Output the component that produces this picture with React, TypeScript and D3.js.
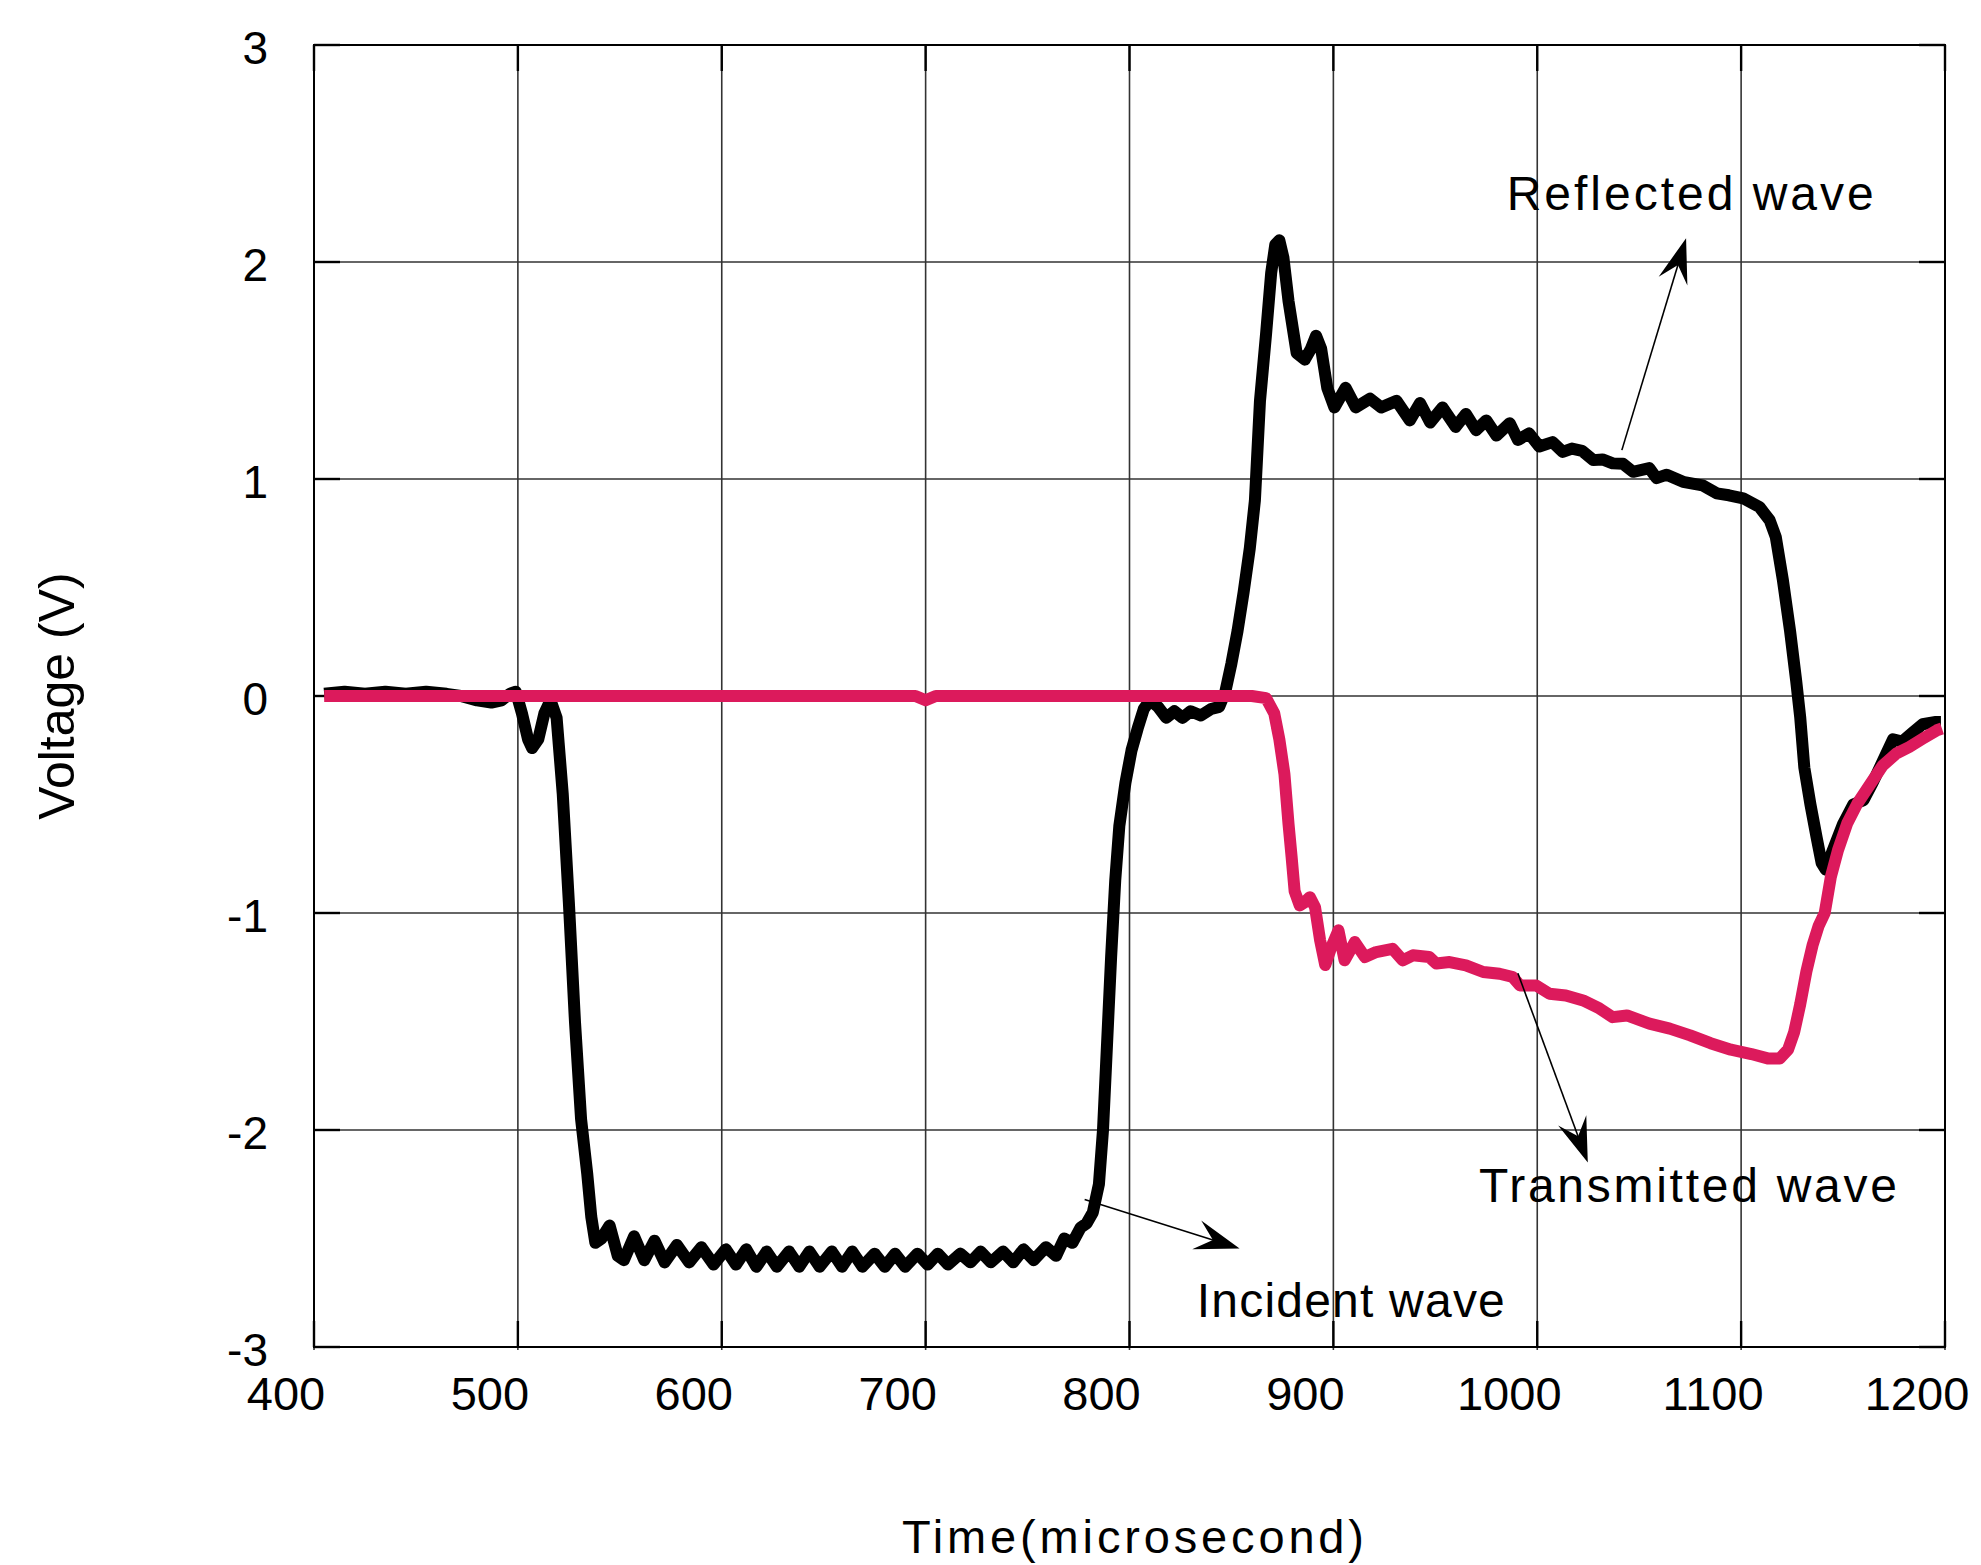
import * as d3 from "d3";

// black trace: incident wave followed by reflected wave (time in microseconds, volts)
const blackTime = [405,415,425,435,445,455,465,472,480,487,492,496,499,502,505,507,510,513,516,519,522,525,528,531,534,536,538,541,545,549,552,557,562,567,572,578,584,590,596,602,607,612,617,622,627,633,638,643,648,654,659,664,669,675,680,685,690,696,701,706,711,717,722,727,732,738,743,748,753,759,764,768,772,776,779,782,785,787,789,791,793,795,798,801,804,807,810,814,818,822,826,830,835,840,844,847,850,853,856,859,861.5,864,867,869.5,871.5,873.5,875.5,878,882,886,889,891.5,894,897,900.5,906,911,918,923.5,931,937.5,942.5,947.5,953.5,960,965,970,975,980,986.5,990.5,996,1001,1007.5,1012.5,1017,1022,1027.5,1032,1037,1042,1047,1055,1058.5,1063.5,1071.5,1081,1088,1094,1101,1109,1114,1117,1120.5,1124,1127,1129,1131,1134,1137,1139.5,1141.5,1145,1150,1155,1160,1164.5,1169.5,1174.5,1179,1184,1189,1195.5,1198];
const blackVolt = [0.01,0.02,0.01,0.02,0.01,0.02,0.01,0.0,-0.02,-0.03,-0.02,0.01,0.02,-0.08,-0.2,-0.24,-0.2,-0.08,-0.02,-0.1,-0.45,-0.95,-1.5,-1.95,-2.2,-2.4,-2.52,-2.5,-2.44,-2.58,-2.6,-2.49,-2.6,-2.51,-2.61,-2.53,-2.61,-2.54,-2.62,-2.55,-2.62,-2.55,-2.63,-2.56,-2.63,-2.56,-2.63,-2.56,-2.63,-2.56,-2.63,-2.56,-2.63,-2.57,-2.63,-2.57,-2.63,-2.57,-2.62,-2.57,-2.62,-2.57,-2.61,-2.56,-2.61,-2.56,-2.61,-2.55,-2.6,-2.54,-2.58,-2.5,-2.52,-2.45,-2.43,-2.38,-2.25,-2.0,-1.6,-1.2,-0.85,-0.6,-0.4,-0.25,-0.15,-0.06,-0.02,-0.05,-0.1,-0.07,-0.1,-0.07,-0.09,-0.06,-0.05,0.02,0.15,0.3,0.48,0.68,0.9,1.36,1.67,1.95,2.08,2.1,2.02,1.82,1.58,1.55,1.6,1.66,1.6,1.42,1.33,1.42,1.33,1.37,1.33,1.36,1.27,1.35,1.26,1.33,1.24,1.3,1.225,1.27,1.2,1.257,1.18,1.21,1.15,1.17,1.125,1.14,1.13,1.087,1.09,1.072,1.07,1.033,1.05,1.004,1.02,0.987,0.971,0.934,0.925,0.911,0.871,0.81,0.733,0.533,0.3,0.07,-0.1,-0.33,-0.5,-0.65,-0.77,-0.8,-0.71,-0.59,-0.5,-0.48,-0.4,-0.3,-0.2,-0.21,-0.17,-0.13,-0.12,-0.12];

// pink trace: transmitted wave
const pinkTime = [405,500,600,695,700,705,800,860,867,871,873.5,876,878,879.5,881,883.5,886,888.5,891,893.5,896,899,902.5,905.5,910.5,915.5,921,929,934,939,947,950.5,957,965,973.5,981.5,988,991.5,999.5,1006,1014,1022.5,1030.5,1037,1044,1055,1065,1075,1085,1095,1105,1113,1119,1123,1126,1129,1132,1135,1138,1141,1144,1147.5,1152,1157,1163.5,1169.5,1176,1182.5,1189,1196,1198.5];
const pinkVolt = [0,0,0,0,-0.02,0,0,0,-0.01,-0.08,-0.2,-0.36,-0.59,-0.74,-0.9,-0.965,-0.95,-0.927,-0.973,-1.126,-1.24,-1.157,-1.08,-1.218,-1.134,-1.203,-1.18,-1.165,-1.218,-1.195,-1.203,-1.233,-1.226,-1.241,-1.272,-1.28,-1.295,-1.334,-1.334,-1.372,-1.38,-1.403,-1.44,-1.48,-1.472,-1.51,-1.533,-1.564,-1.6,-1.63,-1.65,-1.67,-1.67,-1.63,-1.55,-1.42,-1.27,-1.15,-1.06,-1.0,-0.834,-0.711,-0.588,-0.496,-0.404,-0.32,-0.266,-0.235,-0.197,-0.158,-0.15];

const xTicks = [400, 500, 600, 700, 800, 900, 1000, 1100, 1200];
const yTicks = [-3, -2, -1, 0, 1, 2, 3];

// annotation labels: text, left x (time), baseline (volts), width in px
const labelText = ["Reflected wave", "Transmitted wave", "Incident wave"];
const labelX = [985, 971.4, 833];
const labelY = [2.24, -2.33, -2.86];
const labelWidth = [367, 418, 308];
// arrows: from (time, volts) to tip (time, volts)
const arrowFrom = [[1041.5, 1.133], [990.5, -1.278], [778, -2.32]];
const arrowTo = [[1073, 2.11], [1024.8, -2.15], [854, -2.546]];

const W = 1981;
const H = 1565;
const margin = { top: 45, right: 36, bottom: 218, left: 314 };
const font = "'Liberation Sans', Arial, Helvetica, sans-serif";

export default function App() {
  const x = d3.scaleLinear().domain([400, 1200]).range([margin.left, W - margin.right]);
  const y = d3.scaleLinear().domain([-3, 3]).range([H - margin.bottom, margin.top]);

  const trace = d3
    .line<[number, number]>()
    .x((d) => x(d[0]))
    .y((d) => y(d[1]));

  const blackPath = trace(blackTime.map((t, i) => [t, blackVolt[i]]));
  const pinkPath = trace(pinkTime.map((t, i) => [t, pinkVolt[i]]));

  const x0 = margin.left;
  const x1 = W - margin.right;
  const y0 = margin.top;
  const y1 = H - margin.bottom;

  return (
    <svg
      width={W}
      height={H}
      style={{ position: "absolute", left: 0, top: 0, background: "#fff" }}
      fontFamily={font}
    >
      {/* grid */}
      {xTicks.map((t) => (
        <line key={"gx" + t} x1={x(t)} x2={x(t)} y1={y0} y2={y1 + 3} stroke="#333" strokeWidth={1.6} />
      ))}
      {yTicks.map((t) => (
        <line key={"gy" + t} x1={x0} x2={x1} y1={y(t)} y2={y(t)} stroke="#333" strokeWidth={1.6} />
      ))}
      {/* inner tick marks */}
      {yTicks.map((t) => (
        <g key={"ty" + t}>
          <line x1={x0} x2={x0 + 26} y1={y(t)} y2={y(t)} stroke="#000" strokeWidth={2.4} />
          <line x1={x1 - 26} x2={x1} y1={y(t)} y2={y(t)} stroke="#000" strokeWidth={2.4} />
        </g>
      ))}
      {xTicks.map((t) => (
        <g key={"tx" + t}>
          <line x1={x(t)} x2={x(t)} y1={y1} y2={y1 - 26} stroke="#000" strokeWidth={2.4} />
          <line x1={x(t)} x2={x(t)} y1={y0} y2={y0 + 26} stroke="#000" strokeWidth={2.4} />
        </g>
      ))}
      <rect x={x0} y={y0} width={x1 - x0} height={y1 - y0} fill="none" stroke="#000" strokeWidth={2} />

      {/* tick labels */}
      {yTicks.map((t) => (
        <text key={"ly" + t} x={x0 - 46} y={y(t) + 3} textAnchor="end" dominantBaseline="central" fontSize={46} fill="#000">
          {t}
        </text>
      ))}
      {xTicks.map((t) => (
        <text key={"lx" + t} x={x(t) - 28} y={y1 + 63} textAnchor="middle" fontSize={47} fill="#000">
          {t}
        </text>
      ))}

      {/* axis titles */}
      <text
        transform={`translate(57, ${(y0 + y1) / 2}) rotate(-90)`}
        textAnchor="middle"
        dominantBaseline="central"
        fontSize={50}
        fill="#000"
      >
        Voltage (V)
      </text>
      <text x={902} y={1553} fontSize={47} fill="#000" textLength={462} lengthAdjust="spacing">
        Time(microsecond)
      </text>

      {/* traces */}
      <path d={blackPath || ""} fill="none" stroke="#000" strokeWidth={12} strokeLinejoin="round" />
      <path d={pinkPath || ""} fill="none" stroke="#dc1a5c" strokeWidth={12} strokeLinejoin="round" />

      {/* annotations */}
      {arrowFrom.map((f, i) => {
        const ax = x(f[0]);
        const ay = y(f[1]);
        const bx = x(arrowTo[i][0]);
        const by = y(arrowTo[i][1]);
        const ang = (Math.atan2(by - ay, bx - ax) * 180) / Math.PI;
        return (
          <g key={"ar" + i}>
            <line x1={ax} y1={ay} x2={bx - (bx - ax) * 0.08} y2={by - (by - ay) * 0.08} stroke="#000" strokeWidth={1.6} />
            <path
              d="M0,0 L-45,-15 L-28,0 L-45,15 Z"
              fill="#000"
              transform={`translate(${bx},${by}) rotate(${ang})`}
            />
          </g>
        );
      })}
      {labelText.map((s, i) => (
        <text
          key={"lt" + i}
          x={x(labelX[i])}
          y={y(labelY[i])}
          fontSize={48}
          fill="#000"
          textLength={labelWidth[i]}
          lengthAdjust="spacing"
        >
          {s}
        </text>
      ))}
    </svg>
  );
}
